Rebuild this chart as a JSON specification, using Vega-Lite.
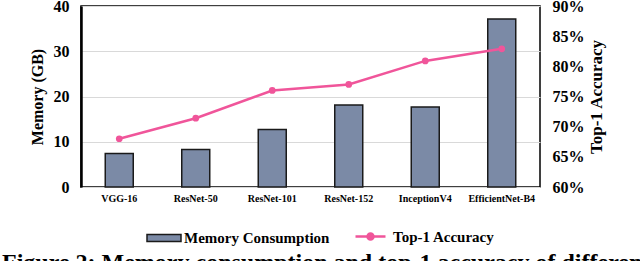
{
  "$schema": "https://vega.github.io/schema/vega-lite/v6.json",
  "autosize": "none",
  "width": 459,
  "height": 181,
  "padding": {"left": 81, "top": 6, "right": 100, "bottom": 74},
  "background": "white",
  "title": {
    "text": "Figure 2: Memory consumption and top-1 accuracy of different models",
    "orient": "bottom",
    "anchor": "start",
    "frame": "group",
    "dx": -79,
    "offset": 5,
    "font": "Liberation Serif",
    "fontWeight": "bold",
    "fontSize": 24,
    "color": "black",
    "baseline": "top"
  },
  "config": {
    "view": {"stroke": "black", "strokeWidth": 1.5},
    "font": "Liberation Serif",
    "axis": {"labelFont": "Liberation Serif", "titleFont": "Liberation Serif", "labelColor": "black", "titleColor": "black", "labelFontWeight": "bold", "titleFontWeight": "bold"}
  },
  "data": {
    "values": [
      {"model": "VGG-16", "memory": 7.4, "acc": 68.0, "s1": "Memory Consumption", "s2": "Top-1 Accuracy"},
      {"model": "ResNet-50", "memory": 8.3, "acc": 71.4, "s1": "Memory Consumption", "s2": "Top-1 Accuracy"},
      {"model": "ResNet-101", "memory": 12.7, "acc": 76.0, "s1": "Memory Consumption", "s2": "Top-1 Accuracy"},
      {"model": "ResNet-152", "memory": 18.1, "acc": 77.0, "s1": "Memory Consumption", "s2": "Top-1 Accuracy"},
      {"model": "InceptionV4", "memory": 17.7, "acc": 80.9, "s1": "Memory Consumption", "s2": "Top-1 Accuracy"},
      {"model": "EfficientNet-B4", "memory": 37.1, "acc": 82.9, "s1": "Memory Consumption", "s2": "Top-1 Accuracy"}
    ]
  },
  "encoding": {
    "x": {
      "field": "model", "type": "nominal", "sort": null,
      "scale": {"paddingInner": 0.634, "paddingOuter": 0.317},
      "axis": {"title": null, "labelAngle": 0, "labelFontSize": 10, "labelPadding": 6, "ticks": false, "domain": false, "grid": false}
    }
  },
  "layer": [
    {
      "mark": {"type": "bar", "stroke": "#1a1a1a", "strokeWidth": 1.5},
      "encoding": {
        "y": {
          "field": "memory", "type": "quantitative",
          "scale": {"domain": [0, 40]},
          "axis": {"title": "Memory (GB)", "titleFontSize": 16, "titlePadding": 8, "values": [0, 10, 20, 30, 40], "labelFontSize": 16, "labelPadding": 12, "ticks": false, "domainColor": "black", "domainWidth": 2.5, "gridColor": "#d9d9d9", "gridWidth": 1.2}
        },
        "fill": {
          "field": "s1", "type": "nominal",
          "scale": {"range": ["#7b8aa6"]},
          "legend": {"title": null, "orient": "none", "legendX": 65, "legendY": 214, "symbolType": "M-1,-0.2H1V0.2H-1Z", "symbolSize": 1156, "symbolStrokeColor": "#1a1a1a", "symbolStrokeWidth": 1.5, "labelFontSize": 15, "labelFont": "Liberation Serif", "labelFontWeight": "bold", "labelColor": "black", "labelOffset": 2}
        }
      }
    },
    {
      "mark": {"type": "line", "strokeWidth": 2.5, "point": {"filled": true, "size": 45}},
      "encoding": {
        "y": {
          "field": "acc", "type": "quantitative",
          "scale": {"domain": [60, 90]},
          "axis": {"title": "Top-1 Accuracy", "orient": "right", "titleAngle": 270, "titleFontSize": 17, "titlePadding": 21, "values": [60, 65, 70, 75, 80, 85, 90], "labelExpr": "datum.value + '%'", "labelFontSize": 16, "labelPadding": 12, "ticks": false, "domain": false, "grid": false}
        },
        "color": {
          "field": "s2", "type": "nominal",
          "scale": {"range": ["#f0559a"]},
          "legend": {"title": null, "orient": "none", "legendX": 273, "legendY": 214, "symbolType": "M-1,0H1M-0.2,0A0.2,0.2 0 1,0 0.2,0A0.2,0.2 0 1,0 -0.2,0", "symbolSize": 900, "symbolStrokeWidth": 2.5, "symbolFillColor": "#f0559a", "labelFontSize": 15, "labelFont": "Liberation Serif", "labelFontWeight": "bold", "labelColor": "black", "labelOffset": 6}
        }
      }
    }
  ],
  "resolve": {"scale": {"y": "independent", "color": "independent"}}
}
